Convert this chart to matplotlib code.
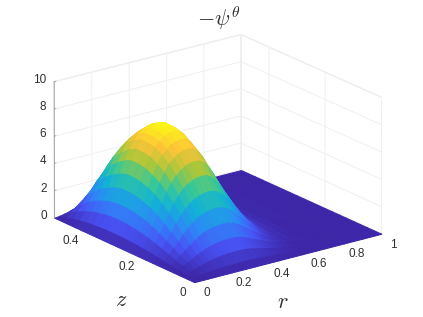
import numpy as np
import matplotlib
matplotlib.use("Agg")
import matplotlib.pyplot as plt
from matplotlib.colors import LinearSegmentedColormap, Normalize
from mpl_toolkits.mplot3d import proj3d
from mpl_toolkits.mplot3d.art3d import Poly3DCollection

r_vals = [0, .025, .05, .075, .1, .125, .15, .175, .2, .225, .25, .275, .3, .325, .35, .375, .4,
          .425, .45, .475, .5, .525, .55, .575, .6, .65, .7, .8, .9, 1]
z_vals = [0, .025, .05, .075, .1, .125, .15, .175, .2, .225, .25, .275, .3, .325, .35, .375, .4,
          .425, .45, .475, .5]

# heights, one row per z value
psi = [
    [0] * 30,
    [0, .02, .05, .07, .10, .13, .16, .18, .20, .21, .22, .23, .23, .23, .22, .20, .18, .15, .13, .10, .08, .06, .04, .03, .02, .01, 0, 0, 0, 0],
    [0, .06, .15, .24, .34, .44, .53, .61, .67, .71, .74, .75, .76, .75, .72, .67, .59, .51, .43, .34, .27, .20, .14, .09, .06, .02, .01, 0, 0, 0],
    [0, .12, .29, .46, .65, .84, 1.01, 1.15, 1.27, 1.34, 1.40, 1.43, 1.44, 1.43, 1.37, 1.27, 1.12, .96, .81, .65, .50, .37, .26, .17, .12, .04, .01, 0, 0, 0],
    [0, .18, .46, .73, 1.03, 1.32, 1.60, 1.82, 2.01, 2.12, 2.21, 2.26, 2.28, 2.26, 2.17, 2.01, 1.78, 1.53, 1.28, 1.03, .80, .59, .41, .27, .18, .07, .02, 0, 0, 0],
    [0, .26, .64, 1.02, 1.44, 1.85, 2.23, 2.55, 2.81, 2.97, 3.09, 3.16, 3.19, 3.16, 3.03, 2.81, 2.49, 2.14, 1.79, 1.44, 1.12, .83, .57, .38, .26, .10, .03, 0, 0, 0],
    [0, .33, .84, 1.34, 1.88, 2.42, 2.93, 3.34, 3.68, 3.89, 4.05, 4.14, 4.18, 4.14, 3.97, 3.68, 3.26, 2.80, 2.34, 1.88, 1.46, 1.09, .75, .50, .33, .13, .04, 0, 0, 0],
    [0, .41, 1.02, 1.63, 2.29, 2.95, 3.56, 4.07, 4.48, 4.73, 4.94, 5.04, 5.09, 5.04, 4.84, 4.48, 3.97, 3.41, 2.85, 2.29, 1.78, 1.32, .92, .61, .41, .15, .05, 0, 0, 0],
    [0, .47, 1.19, 1.90, 2.67, 3.44, 4.15, 4.74, 5.22, 5.51, 5.75, 5.87, 5.93, 5.87, 5.63, 5.22, 4.63, 3.97, 3.32, 2.67, 2.08, 1.54, 1.07, .71, .47, .18, .06, 0, 0, 0],
    [0, .53, 1.32, 2.12, 2.97, 3.83, 4.63, 5.29, 5.82, 6.15, 6.41, 6.54, 6.61, 6.54, 6.28, 5.82, 5.16, 4.43, 3.70, 2.97, 2.31, 1.72, 1.19, .79, .53, .20, .07, 0, 0, 0],
    [0, .57, 1.41, 2.26, 3.18, 4.10, 4.95, 5.66, 6.22, 6.58, 6.86, 7.00, 7.07, 7.00, 6.72, 6.22, 5.51, 4.74, 3.96, 3.18, 2.47, 1.84, 1.27, .85, .57, .21, .07, 0, 0, 0],
    [0, .60, 1.49, 2.38, 3.35, 4.32, 5.22, 5.96, 6.56, 6.93, 7.23, 7.38, 7.45, 7.38, 7.08, 6.56, 5.81, 4.99, 4.17, 3.35, 2.61, 1.94, 1.34, .89, .60, .22, .07, 0, 0, 0],
    [0, .61, 1.52, 2.43, 3.42, 4.41, 5.32, 6.08, 6.69, 7.07, 7.37, 7.52, 7.60, 7.52, 7.22, 6.69, 5.93, 5.09, 4.26, 3.42, 2.66, 1.98, 1.37, .91, .61, .23, .08, 0, 0, 0],
    [0, .61, 1.52, 2.43, 3.42, 4.41, 5.32, 6.08, 6.69, 7.07, 7.37, 7.52, 7.60, 7.52, 7.22, 6.69, 5.93, 5.09, 4.26, 3.42, 2.66, 1.98, 1.37, .91, .61, .23, .08, 0, 0, 0],
    [0, .58, 1.46, 2.34, 3.29, 4.23, 5.11, 5.84, 6.42, 6.79, 7.08, 7.23, 7.30, 7.23, 6.94, 6.42, 5.69, 4.89, 4.09, 3.29, 2.56, 1.90, 1.31, .88, .58, .22, .07, 0, 0, 0],
    [0, .54, 1.35, 2.16, 3.04, 3.92, 4.73, 5.41, 5.95, 6.29, 6.56, 6.69, 6.76, 6.69, 6.42, 5.95, 5.27, 4.53, 3.79, 3.04, 2.37, 1.76, 1.22, .81, .54, .20, .07, 0, 0, 0],
    [0, .49, 1.22, 1.95, 2.74, 3.53, 4.26, 4.86, 5.35, 5.65, 5.90, 6.02, 6.08, 6.02, 5.78, 5.35, 4.74, 4.07, 3.40, 2.74, 2.13, 1.58, 1.09, .73, .49, .18, .06, 0, 0, 0],
    [0, .41, 1.02, 1.63, 2.29, 2.95, 3.56, 4.07, 4.48, 4.73, 4.94, 5.04, 5.09, 5.04, 4.84, 4.48, 3.97, 3.41, 2.85, 2.29, 1.78, 1.32, .92, .61, .41, .15, .05, 0, 0, 0],
    [0, .30, .76, 1.22, 1.71, 2.20, 2.66, 3.04, 3.34, 3.53, 3.69, 3.76, 3.80, 3.76, 3.61, 3.34, 2.96, 2.55, 2.13, 1.71, 1.33, .99, .68, .46, .30, .11, .04, 0, 0, 0],
    [0, .18, .46, .73, 1.03, 1.32, 1.60, 1.82, 2.01, 2.12, 2.21, 2.26, 2.28, 2.26, 2.17, 2.01, 1.78, 1.53, 1.28, 1.03, .80, .59, .41, .27, .18, .07, .02, 0, 0, 0],
    [0, .05, .12, .20, .27, .35, .43, .49, .54, .57, .59, .60, .61, .60, .58, .54, .48, .41, .34, .27, .21, .16, .11, .07, .05, .02, .01, 0, 0, 0],
]

r_ticks = [0, .2, .4, .6, .8, 1]
r_ticklabels = ["0", "0.2", "0.4", "0.6", "0.8", "1"]
z_ticks = [0, .2, .4]
z_ticklabels = ["0", "0.2", "0.4"]
h_ticks = [0, 2, 4, 6, 8, 10]

parula = LinearSegmentedColormap.from_list("parula", [
    (0.2422, 0.1504, 0.6603), (0.2810, 0.3228, 0.9579), (0.1786, 0.5289, 0.9682),
    (0.0689, 0.6948, 0.8394), (0.2161, 0.7843, 0.5923), (0.6720, 0.7793, 0.2227),
    (0.9970, 0.7659, 0.2199), (0.9769, 0.9839, 0.0805)])

plt.rcParams['font.family'] = ['Liberation Sans', 'DejaVu Sans']
plt.rcParams['mathtext.fontset'] = 'cm'

fig = plt.figure(figsize=(4.23, 3.17), dpi=100)
ax = fig.add_axes([2/423, -3.5/317, 1, 1], projection='3d', computed_zorder=False)
ax.set_proj_type('persp', focal_length=15)
ax.view_init(elev=19.9, azim=-126.87)
ax.set_box_aspect((1, 1, 0.62), zoom=1.105)

# draw facets far to near, the camera looks from low r and low z
norm = Normalize(0, 7.7)
order = 3
for i in range(len(z_vals) - 2, -1, -1):
    for j in range(len(r_vals) - 2, -1, -1):
        corners = [(i, j), (i, j + 1), (i + 1, j + 1), (i + 1, j)]
        verts = [(r_vals[b], z_vals[a], psi[a][b]) for a, b in corners]
        col = parula(norm(np.mean([v[2] for v in verts])))
        poly = Poly3DCollection([verts], facecolor=col, edgecolor=col, linewidth=0.7)
        poly.set_zorder(order)
        ax.add_collection3d(poly)
        poly.set_clip_on(False)
        order += 1

ax.set_xlim(0, 1)
ax.set_ylim(0, .5)
ax.set_zlim(0, 10)
ax.set_xticks(r_ticks)
ax.set_xticklabels([])
ax.set_yticks(z_ticks)
ax.set_yticklabels([])
ax.set_zticks(h_ticks)
ax.set_zticklabels([])
ax.tick_params(color='#a8a8a8')

for axis in (ax.xaxis, ax.yaxis, ax.zaxis):
    axis.set_pane_color((1, 1, 1, 1))
    axis.pane.set_edgecolor('#efefef')
    axis._axinfo['grid'].update(color='#efefef', linewidth=0.7)
    axis._axinfo['tick'].update(inward_factor=0, outward_factor=0.1, color='#a8a8a8', linewidth={True: 0.7, False: 0.5})
    axis.line.set_color('#a8a8a8')
    axis.line.set_linewidth(0.8)


def tick_text(x, y, z, label, ha='center'):
    # project by hand so the label is plain 2D text next to the axis
    x2, y2, _ = proj3d.proj_transform(x, y, z, ax.get_proj())
    ax.text2D(x2, y2, label, transform=ax.transData, fontsize=8.5, color='#303030', ha=ha, va='center')


for tick, label in zip(r_ticks, r_ticklabels):
    tick_text(tick - .04, -.07, 0, label)
for tick, label in zip(z_ticks, z_ticklabels):
    tick_text(-.12, tick - .0385, 0, label)
for tick in h_ticks:
    tick_text(-.027, .51, tick + .15, str(tick), ha='right')

fig.text(283/423, 1 - 302/317, '$r$', fontsize=16, color='#303030', ha='center', va='center')
fig.text(121/423, 1 - 300/317, '$z$', fontsize=16, color='#303030', ha='center', va='center')
fig.text(219/423, 1 - 18/317, r'$-\psi^\theta$', fontsize=16, color='#303030', ha='center', va='center')

fig.savefig('out.png', dpi=100)
